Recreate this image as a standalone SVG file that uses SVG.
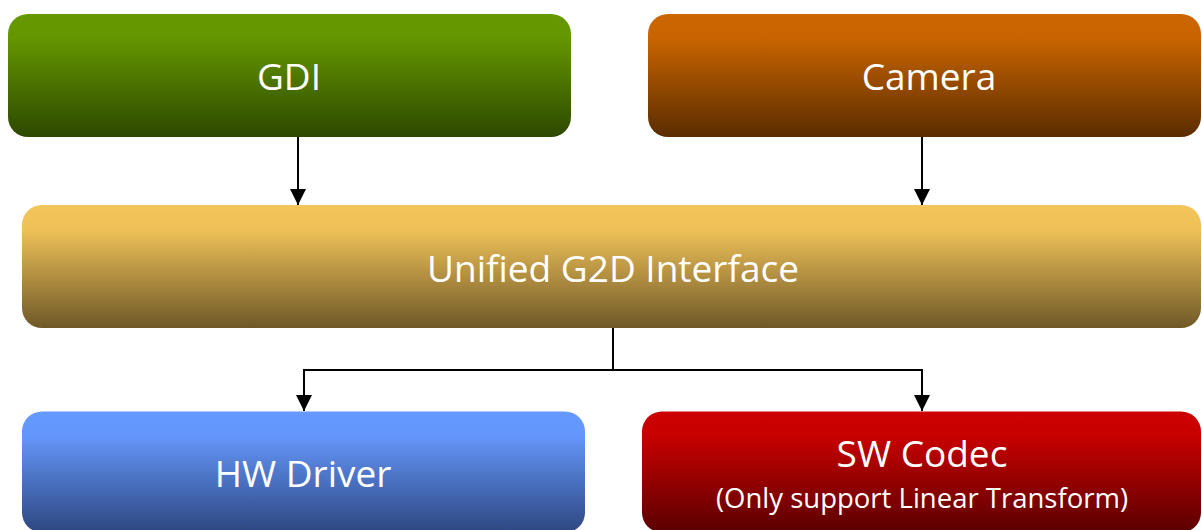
<svg xmlns="http://www.w3.org/2000/svg" width="1202" height="530" viewBox="0 0 1202 530">
<style>
.lbl{font-family:"Open Sans","Liberation Sans",sans-serif;fill:#fff;text-anchor:middle;font-size:37px}
.sub{font-size:27.5px}
.conn{fill:none;stroke:#000;stroke-width:2}
</style>
<defs>
<linearGradient id="gGreen" x1="0" y1="0" x2="0" y2="1"><stop offset="0" stop-color="#669900"/><stop offset="0.2" stop-color="#649600"/><stop offset="1" stop-color="#2d4800"/></linearGradient>
<linearGradient id="gOrange" x1="0" y1="0" x2="0" y2="1"><stop offset="0" stop-color="#cc6600"/><stop offset="0.2" stop-color="#c86400"/><stop offset="1" stop-color="#5a2c00"/></linearGradient>
<linearGradient id="gGold" x1="0" y1="0" x2="0" y2="1"><stop offset="0" stop-color="#f2c55a"/><stop offset="0.2" stop-color="#eec158"/><stop offset="1" stop-color="#6f5828"/></linearGradient>
<linearGradient id="gBlue" x1="0" y1="0" x2="0" y2="1"><stop offset="0" stop-color="#6699ff"/><stop offset="0.2" stop-color="#6496fa"/><stop offset="1" stop-color="#2d4780"/></linearGradient>
<linearGradient id="gRed" x1="0" y1="0" x2="0" y2="1"><stop offset="0" stop-color="#cc0000"/><stop offset="0.2" stop-color="#c80000"/><stop offset="1" stop-color="#5a0000"/></linearGradient>
<marker id="arr" markerUnits="userSpaceOnUse" markerWidth="16" markerHeight="16" viewBox="0 0 16 16" refX="16" refY="8" orient="auto"><path d="M0,0 L16,8 L0,16 Z" fill="#000"/></marker>
</defs>
<g id="connectors">
<path class="conn" d="M298,137 V205" marker-end="url(#arr)"/>
<path class="conn" d="M922,137 V205" marker-end="url(#arr)"/>
<path class="conn" d="M613,328 V370 H304 V411" marker-end="url(#arr)"/>
<path class="conn" d="M613,370 H922 V411" marker-end="url(#arr)"/>
</g>
<g id="gdi"><rect x="8" y="14" width="563" height="123" rx="20" fill="url(#gGreen)"/><text class="lbl" x="289" y="90">GDI</text></g>
<g id="camera"><rect x="648" y="14" width="553" height="123" rx="20" fill="url(#gOrange)"/><text class="lbl" x="929" y="90">Camera</text></g>
<g id="g2d"><rect x="22" y="205" width="1179" height="123" rx="20" fill="url(#gGold)"/><text class="lbl" x="613" y="282">Unified G2D Interface</text></g>
<g id="hw"><rect x="22" y="411.5" width="563" height="121" rx="20" fill="url(#gBlue)"/><text class="lbl" x="303" y="487">HW Driver</text></g>
<g id="sw"><rect x="642" y="411.5" width="559" height="121" rx="20" fill="url(#gRed)"/><text class="lbl" x="922" y="467">SW Codec</text><text class="lbl sub" x="922" y="508">(Only support Linear Transform)</text></g>
</svg>
